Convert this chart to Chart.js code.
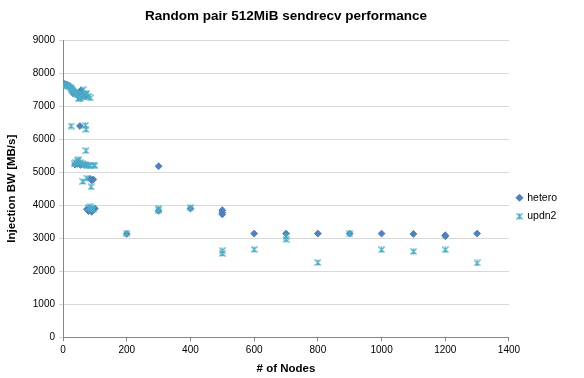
<!DOCTYPE html>
<html>
<head>
<meta charset="utf-8">
<script src="https://cdn.jsdelivr.net/npm/chart.js@4.4.1/dist/chart.umd.min.js"></script>
<style>
  html, body { margin: 0; padding: 0; background: #ffffff; }
  #wrap { width: 584px; height: 378px; }
</style>
</head>
<body>
<div id="wrap"><canvas id="c" width="584" height="378"></canvas></div>
<script>
const chartTitle = "Random pair 512MiB sendrecv performance";
const xTitle = "# of Nodes";
const yTitle = "Injection BW [MB/s]";
const seriesNames = ["hetero", "updn2"];

const heteroNodes = [2,5,8,11,14,17,20,23,26,29,32,35,38,41,44,47,50,56,60,70,
  53, 38,45,55, 85,90,95, 75,80,85,90,95,100,
  200, 300,300, 400, 500,500,500, 600, 700, 800, 900, 1000, 1100, 1200,1200, 1300];
const heteroBW = [7680,7670,7660,7650,7640,7620,7600,7570,7540,7500,7390,7440,7410,7380,7350,7320,7290,7480,7330,7300,
  6400, 5230,5250,5220, 4800,4750,4780, 3880,3820,3900,3800,3870,3900,
  3130, 5180,3830, 3900, 3850,3780,3720, 3140, 3140, 3140, 3140, 3140, 3130, 3090,3060, 3140];

const updn2Nodes = [3,6,9,12,15,18,22,25,28,31,34,37,40,43,46,49,52,55,58,63,66,72,75,80,85,
  25,70,72, 72,
  35,40,45,50,55,60,65,70,75,80,85,95,100,
  62,75,88, 80,85,90,95,
  200, 300,300, 400, 500,500, 600, 700,700, 800, 900, 1000, 1100, 1200, 1300];
const updn2BW = [7650,7660,7640,7630,7620,7600,7580,7550,7520,7490,7460,7430,7400,7370,7340,7230,7260,7230,7330,7500,7280,7380,7380,7300,7250,
  6400,6420,6300, 5650,
  5250,5300,5350,5380,5300,5250,5220,5230,5200,5210,5200,5200,5210,
  4720,4820,4560, 3920,3950,3900,3880,
  3150, 3900,3850, 3920, 2620,2540, 2660, 3050,2970, 2260, 3130, 2650, 2600, 2650, 2250];

const xTicksMax = 1400, xStep = 200, yTicksMax = 9000, yStep = 1000;

const toPoints = (xs, ys) => xs.map((x, i) => ({ x: x, y: ys[i] }));

function starMarker(color, s) {
  const cv = document.createElement('canvas');
  cv.width = s; cv.height = s;
  const g = cv.getContext('2d');
  g.strokeStyle = color;
  g.lineWidth = 1.2;
  g.beginPath();
  g.moveTo(0.5, 0.5); g.lineTo(s - 0.5, s - 0.5);
  g.moveTo(s - 0.5, 0.5); g.lineTo(0.5, s - 0.5);
  g.moveTo(s / 2, 0.5); g.lineTo(s / 2, s - 0.5);
  g.stroke();
  return cv;
}

const FONT = "'Liberation Sans', Arial, sans-serif";
const starImg = starMarker('#4BACC6', 7);

new Chart(document.getElementById('c'), {
  type: 'scatter',
  data: {
    datasets: [
      {
        label: seriesNames[0],
        data: toPoints(heteroNodes, heteroBW),
        pointStyle: 'rectRot',
        pointRadius: 3.4,
        backgroundColor: '#4F81BD',
        borderColor: '#4F81BD',
        borderWidth: 1,
        order: 2
      },
      {
        label: seriesNames[1],
        data: toPoints(updn2Nodes, updn2BW),
        pointStyle: starImg,
        pointRadius: 4,
        backgroundColor: '#4BACC6',
        borderColor: '#4BACC6',
        order: 1
      }
    ]
  },
  options: {
    responsive: false,
    animation: false,
    devicePixelRatio: 1,
    layout: { padding: { left: 5, right: 17, top: 2, bottom: 2 } },
    plugins: {
      title: {
        display: true,
        text: chartTitle,
        color: '#000000',
        font: { family: FONT, size: 13.5, weight: 'bold' },
        padding: { top: 6, bottom: 16 }
      },
      legend: {
        position: 'right',
        title: { display: true, text: ' ', font: { size: 10 }, padding: { top: 12, bottom: 12 } },
        labels: {
          usePointStyle: true,
          boxWidth: 5,
          boxHeight: 5,
          padding: 8,
          color: '#000000',
          font: { family: FONT, size: 10.5 },
          sort: (a, b) => a.datasetIndex - b.datasetIndex
        }
      },
      tooltip: { enabled: false }
    },
    scales: {
      x: {
        type: 'linear',
        min: 0,
        max: xTicksMax,
        ticks: { stepSize: xStep, color: '#000000', font: { family: FONT, size: 10 }, padding: 3, maxRotation: 0,
                 callback: (v) => String(v) },
        grid: { display: true, drawOnChartArea: false, drawTicks: true, tickLength: 4, color: '#868686' },
        border: { display: true, color: '#868686' },
        title: { display: true, text: xTitle, color: '#000000', font: { family: FONT, size: 11.5, weight: 'bold' }, padding: { top: 3, bottom: 0 } }
      },
      y: {
        type: 'linear',
        min: 0,
        max: yTicksMax,
        ticks: { stepSize: yStep, color: '#000000', font: { family: FONT, size: 10 }, padding: 4,
                 callback: (v) => String(v) },
        grid: { display: true, drawOnChartArea: true, drawTicks: true, tickLength: 4, color: '#d9d9d9', lineWidth: 1 },
        border: { display: true, color: '#868686' },
        title: { display: true, text: yTitle, color: '#000000', font: { family: FONT, size: 11.5, weight: 'bold' }, padding: { top: 0, bottom: 10 } }
      }
    }
  }
});
</script>
</body>
</html>
